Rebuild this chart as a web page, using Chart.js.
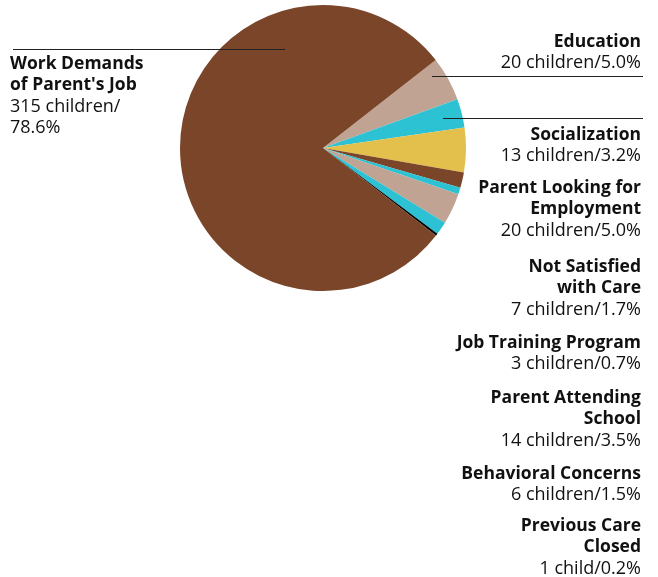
<!DOCTYPE html>
<html>
<head>
<meta charset="utf-8">
<script src="https://cdn.jsdelivr.net/npm/chart.js@4"></script>
<style>
  html, body { margin: 0; padding: 0; background: #fff; }
  #wrap { width: 658px; height: 577px; position: relative; }
</style>
</head>
<body>
<div id="wrap"><canvas id="reasonsChart"></canvas></div>
<script>
// Reasons for care, clockwise from the Education slice
const categories = ['Education', 'Socialization', 'Parent Looking for Employment', 'Not Satisfied with Care',
    'Job Training Program', 'Parent Attending School', 'Behavioral Concerns', 'Previous Care Closed',
    'Work Demands of Parent\'s Job'];
const children = [20, 13, 20, 7, 3, 14, 6, 1, 315];
const percents = ['5.0', '3.2', '5.0', '1.7', '0.7', '3.5', '1.5', '0.2', '78.6'];
const sliceColors = ['#C1A393', '#2CC1D3', '#E3C04B', '#7A4528', '#2CC1D3', '#C1A393', '#2CC1D3', '#000000', '#7A4528'];

// label blocks: bold lines + normal line
const labelLines = [
    [['Education'], '20 children/5.0%'],
    [['Socialization'], '13 children/3.2%'],
    [['Parent Looking for', 'Employment'], '20 children/5.0%'],
    [['Not Satisfied', 'with Care'], '7 children/1.7%'],
    [['Job Training Program'], '3 children/0.7%'],
    [['Parent Attending', 'School'], '14 children/3.5%'],
    [['Behavioral Concerns'], '6 children/1.5%'],
    [['Previous Care', 'Closed'], '1 child/0.2%']
];
const labelTops = [42, 135, 188, 267, 343, 398, 474, 526];

const FONT = '"Open Sans", "Noto Sans", sans-serif';
const BOLD = 'bold 17.5px ' + FONT;
const NORMAL = '18px ' + FONT;

const labelPlugin = {
    id: 'sideLabels',
    afterDraw(chart) {
        const ctx = chart.ctx;
        ctx.save();
        ctx.fillStyle = '#111';
        ctx.textBaseline = 'middle';
        const lh = 21.3;

        // right side labels
        ctx.textAlign = 'right';
        labelLines.forEach((blk, i) => {
            let y = labelTops[i];
            blk[0].forEach(t => {
                ctx.font = BOLD;
                ctx.fillText(t, 641, y);
                y += lh;
            });
            ctx.font = NORMAL;
            ctx.fillText(blk[1], 641, y);
        });

        // left label
        ctx.textAlign = 'left';
        ctx.font = BOLD;
        ctx.fillText('Work Demands', 10, 64);
        ctx.fillText('of Parent\'s Job', 10, 85);
        ctx.font = NORMAL;
        ctx.fillText('315 children/', 10, 107);
        ctx.fillText('78.6%', 10, 128);

        // leader lines
        ctx.strokeStyle = '#222';
        ctx.lineWidth = 1;
        ctx.beginPath();
        ctx.moveTo(13, 49.5); ctx.lineTo(285, 49.5);
        ctx.moveTo(432, 76.5); ctx.lineTo(643, 76.5);
        ctx.moveTo(443, 118.5); ctx.lineTo(643, 118.5);
        ctx.stroke();
        ctx.restore();
    }
};

new Chart(document.getElementById('reasonsChart').getContext('2d'), {
    type: 'pie',
    data: {
        labels: categories,
        datasets: [{
            data: children,
            backgroundColor: sliceColors,
            borderWidth: 0
        }]
    },
    options: {
        responsive: true,
        maintainAspectRatio: false,
        animation: false,
        rotation: 52,
        layout: { padding: { left: 180, right: 192, top: 5, bottom: 286 } },
        plugins: {
            legend: { display: false },
            tooltip: { enabled: false }
        }
    },
    plugins: [labelPlugin]
});
</script>
</body>
</html>
